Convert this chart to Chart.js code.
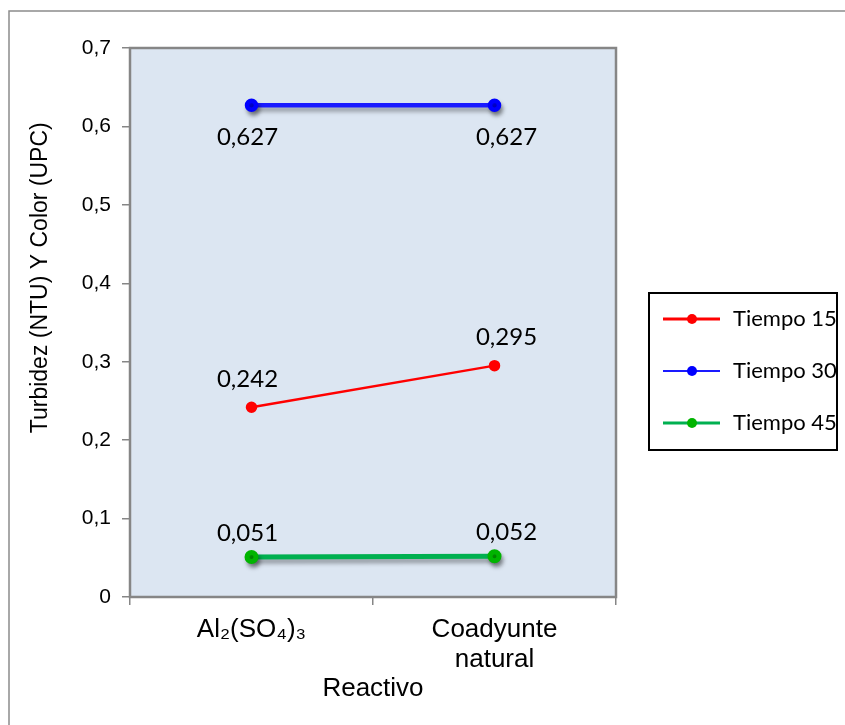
<!DOCTYPE html>
<html>
<head>
<meta charset="utf-8">
<script src="https://cdn.jsdelivr.net/npm/chart.js@4/dist/chart.umd.min.js"></script>
<style>
  html, body { margin: 0; padding: 0; background: #fff; }
  #wrap { width: 845px; height: 725px; }
</style>
</head>
<body>
<div id="wrap"><canvas id="lineChart" width="845" height="725"></canvas></div>
<script>
var categories = ['Al\u2082(SO\u2084)\u2083', ['Coadyunte', 'natural']];
var tiempo15 = [0.242, 0.295];
var tiempo30 = [0.627, 0.627];
var tiempo45 = [0.051, 0.052];
var seriesNames = ['Tiempo 15', 'Tiempo 30', 'Tiempo 45'];
var yTicks = [0, 0.1, 0.2, 0.3, 0.4, 0.5, 0.6, 0.7];

function fmt(v, d) {
    if (v === 0) return '0';
    return v.toFixed(d).replace('.', ',');
}

// fondo del area de trazado y borde exterior
var plotBg = {
    id: 'plotBg',
    beforeDraw: function (chart) {
        var ctx = chart.ctx, a = chart.chartArea;
        ctx.save();
        ctx.fillStyle = '#fff';
        ctx.fillRect(0, 0, chart.width, chart.height);
        ctx.strokeStyle = '#8c8c8c';
        ctx.lineWidth = 1.5;
        ctx.beginPath();
        ctx.moveTo(9, chart.height);
        ctx.lineTo(9, 11);
        ctx.lineTo(chart.width, 11);
        ctx.stroke();
        ctx.fillStyle = '#dce6f2';
        ctx.fillRect(a.left, a.top, a.right - a.left, a.bottom - a.top);
        ctx.strokeStyle = '#868686';
        ctx.lineWidth = 2.5;
        ctx.strokeRect(a.left, a.top, a.right - a.left, a.bottom - a.top);
        ctx.restore();
    }
};

var shadowLines = {
    id: 'shadowLines',
    beforeDatasetDraw: function (chart, args) {
        var ds = chart.data.datasets[args.index];
        if (ds.shadow) {
            chart.ctx.save();
            chart.ctx.shadowColor = 'rgba(0,0,0,0.35)';
            chart.ctx.shadowBlur = 4;
            chart.ctx.shadowOffsetX = 2;
            chart.ctx.shadowOffsetY = 4;
        }
    },
    afterDatasetDraw: function (chart, args) {
        if (chart.data.datasets[args.index].shadow) chart.ctx.restore();
    }
};

var valueLabels = {
    id: 'valueLabels',
    afterDatasetsDraw: function (chart) {
        var ctx = chart.ctx;
        ctx.save();
        ctx.font = '24px Lato, "Open Sans", sans-serif';
        ctx.fillStyle = '#000';
        ctx.textAlign = 'center';
        ctx.textBaseline = 'middle';
        chart.data.datasets.forEach(function (ds, i) {
            chart.getDatasetMeta(i).data.forEach(function (pt, j) {
                var dx = j === 0 ? -4 : 12;
                ctx.fillText(fmt(ds.data[j], 3), pt.x + dx, pt.y + ds.labelDy);
            });
        });
        ctx.restore();
    }
};

var boxLegend = {
    id: 'boxLegend',
    afterDraw: function (chart) {
        var ctx = chart.ctx;
        ctx.save();
        ctx.strokeStyle = '#000';
        ctx.lineWidth = 2;
        ctx.strokeRect(649, 293, 188, 157);
        ctx.font = '22px Lato, "Open Sans", sans-serif';
        ctx.textBaseline = 'middle';
        chart.data.datasets.forEach(function (ds, i) {
            var y = 319 + i * 52;
            ctx.strokeStyle = ds.borderColor;
            ctx.lineWidth = ds.legendWidth;
            ctx.beginPath();
            ctx.moveTo(663, y);
            ctx.lineTo(720, y);
            ctx.stroke();
            ctx.fillStyle = ds.pointBackgroundColor;
            ctx.beginPath();
            ctx.arc(692, y, 5, 0, Math.PI * 2);
            ctx.fill();
            ctx.fillStyle = '#000';
            ctx.fillText(ds.label, 733, y);
        });
        ctx.restore();
    }
};

new Chart('lineChart', {
    type: 'line',
    data: {
        labels: categories,
        datasets: [{
            label: seriesNames[0],
            data: tiempo15,
            borderColor: '#ff0000',
            pointBackgroundColor: '#ff0000',
            pointBorderColor: '#ff0000',
            borderWidth: 2.5,
            legendWidth: 3,
            labelDy: -28,
            shadow: false
        }, {
            label: seriesNames[1],
            data: tiempo30,
            borderColor: '#1a1aff',
            pointBackgroundColor: '#0000ff',
            pointBorderColor: '#0000ff',
            borderWidth: 4.5,
            legendWidth: 2,
            labelDy: 32,
            shadow: true
        }, {
            label: seriesNames[2],
            data: tiempo45,
            borderColor: '#00b050',
            pointBackgroundColor: '#00b400',
            pointBorderColor: '#00b400',
            borderWidth: 5,
            legendWidth: 3,
            labelDy: -24,
            shadow: true
        }]
    },
    options: {
        responsive: false,
        animation: false,
        layout: { padding: { left: 0, right: 229, top: 48, bottom: 0 } },
        elements: {
            point: { radius: 4.5, borderWidth: 0, hoverRadius: 4.5 },
            line: { tension: 0 }
        },
        plugins: {
            legend: { display: false },
            tooltip: { enabled: false }
        },
        scales: {
            x: {
                offset: true,
                grid: { offset: true, drawOnChartArea: false, color: '#868686', tickLength: 8, lineWidth: 1.5 },
                border: { color: '#868686', width: 2 },
                ticks: {
                    color: '#000',
                    padding: 10,
                    maxRotation: 0,
                    font: { family: 'Arial, "Liberation Sans", sans-serif', size: 26, lineHeight: 1.15 }
                },
                title: {
                    display: true,
                    text: 'Reactivo',
                    color: '#000',
                    padding: { top: 0, bottom: 21 },
                    font: { family: 'Arial, "Liberation Sans", sans-serif', size: 26 }
                },
                afterFit: function (scale) { scale.height = 128; }
            },
            y: {
                min: 0,
                max: 0.7,
                afterBuildTicks: function (scale) {
                    scale.ticks = yTicks.map(function (v) { return { value: v }; });
                },
                grid: { drawOnChartArea: false, color: '#868686', tickLength: 8, lineWidth: 1.5 },
                border: { color: '#868686', width: 2 },
                ticks: {
                    color: '#000',
                    padding: 11,
                    callback: function (v) { return fmt(v, 1); },
                    font: { family: 'Arial, "Liberation Sans", sans-serif', size: 21 }
                },
                title: {
                    display: true,
                    // espacios iniciales para subir el titulo como en el original
                    text: '              Turbidez (NTU) Y Color (UPC)',
                    color: '#000',
                    padding: { top: 27, bottom: 0 },
                    font: { family: 'Arial, "Liberation Sans", sans-serif', size: 23 }
                },
                afterFit: function (scale) { scale.width = 130; }
            }
        }
    },
    plugins: [plotBg, shadowLines, valueLabels, boxLegend]
});
</script>
</body>
</html>
